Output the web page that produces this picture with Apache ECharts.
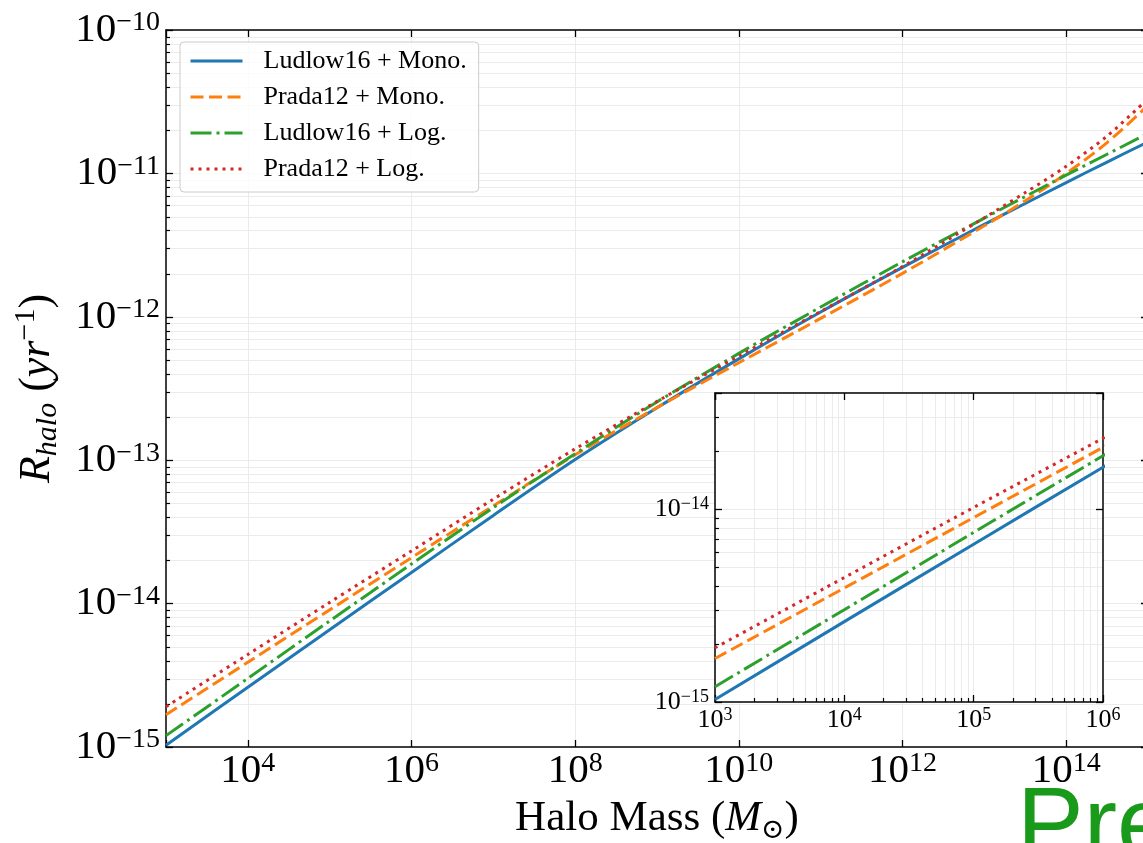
<!DOCTYPE html>
<html><head><meta charset="utf-8">
<script src="https://cdn.jsdelivr.net/npm/echarts@6/dist/echarts.min.js"></script>
<style>html,body{margin:0;padding:0;background:#fff}#c{width:1143px;height:843px}</style>
</head><body><div id="c"></div>
<script>
// ---------------- data ----------------
const masses = [1e3, 1e4, 1e5, 1e6, 1e7, 1e8, 1e9, 1e10, 1e11, 1e12, 1e13, 3.162e13, 1e14, 3.162e14, 1e15];
const ludlowMono = [1.03e-15, 2.61e-15, 6.58e-15, 1.65e-14, 4.12e-14, 1.01e-13, 2.32e-13, 5.09e-13, 1.08e-12, 2.21e-12, 4.41e-12, 6.17e-12, 8.63e-12, 1.20e-11, 1.66e-11];
const pradaMono  = [1.68e-15, 3.90e-15, 9.04e-15, 2.09e-14, 4.81e-14, 1.09e-13, 2.33e-13, 4.78e-13, 9.75e-13, 2.01e-12, 4.31e-12, 6.44e-12, 9.98e-12, 1.64e-11, 2.98e-11];
const ludlowLog  = [1.20e-15, 3.01e-15, 7.57e-15, 1.89e-14, 4.67e-14, 1.11e-13, 2.55e-13, 5.56e-13, 1.17e-12, 2.42e-12, 4.88e-12, 6.90e-12, 9.73e-12, 1.36e-11, 1.90e-11];
const pradaLog   = [1.91e-15, 4.42e-15, 1.02e-14, 2.33e-14, 5.35e-14, 1.20e-13, 2.57e-13, 5.32e-13, 1.09e-12, 2.24e-12, 4.91e-12, 7.35e-12, 1.12e-11, 1.82e-11, 3.32e-11];
const seriesNames = ['Ludlow16 + Mono.', 'Prada12 + Mono.', 'Ludlow16 + Log.', 'Prada12 + Log.'];
const seriesValues = [ludlowMono, pradaMono, ludlowLog, pradaLog];
const mainXRange = [1e3, 1e15];
const mainYRange = [1e-15, 1e-10];
const insetXRange = [1e3, 1e6];
const insetYRange = [1e-15, 4e-14];
const minorMultipliers = [2, 3, 4, 5, 6, 7, 8, 9];

// ---------------- styles ----------------
const seriesColors = ['#1f77b4', '#ff7f0e', '#2ca02c', '#d62728'];
const seriesDash = ['solid', [13, 5.5], [21, 5, 3, 5], [3, 5]];
const SERIF = '"Liberation Serif","DejaVu Serif",serif';
const GRID_COLOR = '#ebebeb';

function powText(v, evenOnly) {
  const e = Math.log10(v);
  const r = Math.round(e);
  if (Math.abs(e - r) > 1e-6) return '';
  if (evenOnly && Math.abs(r % 2) === 1) return '';
  return '{b|10}{s|' + (r < 0 ? '\u2212' + (-r) : String(r)) + '}';
}
const bigRich = {
  b: {fontSize: 41, fontFamily: SERIF, color: '#000', lineHeight: 42, verticalAlign: 'middle'},
  s: {fontSize: 28, fontFamily: SERIF, color: '#000', lineHeight: 26, verticalAlign: 'top'}
};
const smallRich = {
  b: {fontSize: 26, fontFamily: SERIF, color: '#000', lineHeight: 28, verticalAlign: 'middle'},
  s: {fontSize: 18, fontFamily: SERIF, color: '#000', lineHeight: 18, verticalAlign: 'top'}
};
const axisLineStyle = {show: true, onZero: false, lineStyle: {color: '#000', width: 1.5}};
function tick(len) { return {show: true, inside: true, length: len, lineStyle: {color: '#000', width: 1.3}}; }
const noLabel = {show: false};

// minor tick positions (axis decoration)
const mainMinorY = [];
for (let k = -15; k < -10; k++) minorMultipliers.forEach(m => mainMinorY.push([mainXRange[0], m * Math.pow(10, k)]));
const insetMinorY = [];
for (let k = -15; k < -13; k++) minorMultipliers.forEach(m => { const v = m * Math.pow(10, k); if (v < insetYRange[1]) insetMinorY.push([insetXRange[0], v]); });
const insetMinorX = [];
for (let k = 3; k < 6; k++) minorMultipliers.forEach(m => insetMinorX.push([m * Math.pow(10, k), insetYRange[0]]));

function hMinor(xr, len, both) {
  return function (params, api) {
    const y = api.value(1);
    const a = api.coord([xr[0], y]), b = api.coord([xr[1], y]);
    const yy = Math.round(a[1]) + 0.5;
    const ch = [
      {type: 'line', shape: {x1: a[0], y1: yy, x2: b[0], y2: yy}, style: {stroke: GRID_COLOR, lineWidth: 1}},
      {type: 'line', shape: {x1: a[0], y1: yy, x2: a[0] + len, y2: yy}, style: {stroke: '#000', lineWidth: 1.2}}
    ];
    if (both) ch.push({type: 'line', shape: {x1: b[0] - len, y1: yy, x2: b[0], y2: yy}, style: {stroke: '#000', lineWidth: 1.2}});
    return {type: 'group', children: ch};
  };
}
function vMinor(yr, len) {
  return function (params, api) {
    const x = api.value(0);
    const a = api.coord([x, yr[0]]), b = api.coord([x, yr[1]]);
    const xx = Math.round(a[0]) + 0.5;
    return {type: 'group', children: [
      {type: 'line', shape: {x1: xx, y1: a[1], x2: xx, y2: b[1]}, style: {stroke: GRID_COLOR, lineWidth: 1}},
      {type: 'line', shape: {x1: xx, y1: a[1], x2: xx, y2: a[1] - len}, style: {stroke: '#000', lineWidth: 1.2}}
    ]};
  };
}

function lineSeries(i, xi, yi, z) {
  return {
    type: 'line', name: seriesNames[i], xAxisIndex: xi, yAxisIndex: yi, z: z,
    data: masses.map((m, j) => [m, seriesValues[i][j]]),
    symbol: 'none', showSymbol: false, silent: true, clip: true, smooth: 0.3,
    lineStyle: {color: seriesColors[i], width: 3, type: seriesDash[i], cap: 'butt'},
    itemStyle: {color: seriesColors[i]}
  };
}

const option = {
  animation: false,
  backgroundColor: '#fff',
  grid: [
    {left: 166, top: 30, width: 982, height: 717, show: false, containLabel: false, outerBoundsMode: 'none'},
    {left: 715, top: 393, width: 388, height: 309, show: true, backgroundColor: '#fff', borderWidth: 0, z: 5, containLabel: false, outerBoundsMode: 'none'}
  ],
  xAxis: [
    {type: 'log', logBase: 100, gridIndex: 0, min: mainXRange[0], max: mainXRange[1], position: 'bottom',
     axisLine: axisLineStyle, axisTick: tick(7),
     axisLabel: {formatter: v => powText(v, true), margin: 3, rich: bigRich},
     splitLine: {show: true, showMinLine: false, showMaxLine: false, lineStyle: {color: GRID_COLOR, width: 1}},
     name: '{t|Halo Mass (}{i|M}{sub|\u2299}{t|)}', nameLocation: 'middle', nameGap: 46,
     nameTextStyle: {rich: {
       t: {fontSize: 43, fontFamily: SERIF, color: '#000', lineHeight: 52},
       i: {fontSize: 43, fontFamily: SERIF, fontStyle: 'italic', color: '#000', lineHeight: 52},
       sub: {fontSize: 28, fontFamily: SERIF, color: '#000', lineHeight: 30, verticalAlign: 'bottom'}
     }}},
    {type: 'log', logBase: 100, gridIndex: 0, min: mainXRange[0], max: mainXRange[1], position: 'top',
     axisLine: axisLineStyle, axisTick: tick(7), axisLabel: noLabel, splitLine: {show: false}},
    {type: 'log', logBase: 10, gridIndex: 1, min: insetXRange[0], max: insetXRange[1], position: 'bottom', z: 6,
     axisLine: axisLineStyle, axisTick: tick(7),
     axisLabel: {formatter: v => powText(v, false), margin: 4, rich: smallRich},
     splitLine: {show: true, showMinLine: false, showMaxLine: false, lineStyle: {color: GRID_COLOR, width: 1}}},
    {type: 'log', logBase: 10, gridIndex: 1, min: insetXRange[0], max: insetXRange[1], position: 'top', z: 6,
     axisLine: axisLineStyle, axisTick: tick(7), axisLabel: noLabel, splitLine: {show: false}}
  ],
  yAxis: [
    {type: 'log', logBase: 10, gridIndex: 0, min: mainYRange[0], max: mainYRange[1], position: 'left',
     axisLine: axisLineStyle, axisTick: tick(7),
     axisLabel: {formatter: v => powText(v, false), margin: 6, rich: bigRich},
     splitLine: {show: true, showMinLine: false, showMaxLine: false, lineStyle: {color: GRID_COLOR, width: 1}},
     name: '{R|R}{sub|halo}{t| (}{i|yr}{sup|\u22121}{t|)}', nameLocation: 'middle', nameRotate: 90, nameGap: 103,
     nameTextStyle: {rich: {
       R: {fontSize: 44, fontFamily: SERIF, fontStyle: 'italic', color: '#000', lineHeight: 52},
       i: {fontSize: 44, fontFamily: SERIF, fontStyle: 'italic', color: '#000', lineHeight: 52},
       t: {fontSize: 44, fontFamily: SERIF, color: '#000', lineHeight: 52},
       sub: {fontSize: 30, fontFamily: SERIF, fontStyle: 'italic', color: '#000', lineHeight: 30, verticalAlign: 'bottom'},
       sup: {fontSize: 30, fontFamily: SERIF, color: '#000', lineHeight: 30, verticalAlign: 'top'}
     }}},
    {type: 'log', logBase: 10, gridIndex: 0, min: mainYRange[0], max: mainYRange[1], position: 'right',
     axisLine: axisLineStyle, axisTick: tick(7), axisLabel: noLabel, splitLine: {show: false}},
    {type: 'log', logBase: 10, gridIndex: 1, min: insetYRange[0], max: insetYRange[1], position: 'left', z: 6,
     axisLine: axisLineStyle, axisTick: tick(7),
     axisLabel: {formatter: v => powText(v, false), margin: 6, rich: smallRich},
     splitLine: {show: true, showMinLine: false, showMaxLine: false, lineStyle: {color: GRID_COLOR, width: 1}}},
    {type: 'log', logBase: 10, gridIndex: 1, min: insetYRange[0], max: insetYRange[1], position: 'right', z: 6,
     axisLine: axisLineStyle, axisTick: tick(7), axisLabel: noLabel, splitLine: {show: false}}
  ],
  legend: {
    data: seriesNames, left: 180, top: 42, orient: 'vertical', selectedMode: false,
    itemWidth: 52, itemHeight: 14, itemGap: 6, padding: [4, 12, 8, 9],
    itemStyle: {opacity: 0},
    lineStyle: {width: 3},
    backgroundColor: 'rgba(255,255,255,0.8)', borderColor: '#cccccc', borderWidth: 1, borderRadius: 4,
    textStyle: {fontFamily: SERIF, fontSize: 26, color: '#000', lineHeight: 30, padding: [0, 0, 0, 16]}
  },
  graphic: [
    {type: 'text', left: 1017, top: 779, z: 10, silent: true,
     style: {text: 'Preprint', fill: '#1a9a1a', fontSize: 100, fontFamily: '"Liberation Sans", Arial, sans-serif'}}
  ],
  series: [
    {type: 'custom', xAxisIndex: 0, yAxisIndex: 0, z: 1, silent: true, data: mainMinorY,
     encode: {x: 0, y: 1}, renderItem: hMinor(mainXRange, 4, true)},
    {type: 'custom', xAxisIndex: 2, yAxisIndex: 2, z: 6, silent: true, data: insetMinorY,
     encode: {x: 0, y: 1}, renderItem: hMinor(insetXRange, 4, false)},
    {type: 'custom', xAxisIndex: 2, yAxisIndex: 2, z: 6, silent: true, data: insetMinorX,
     encode: {x: 0, y: 1}, renderItem: vMinor(insetYRange, 4)},
    lineSeries(0, 0, 0, 3), lineSeries(1, 0, 0, 3), lineSeries(2, 0, 0, 3), lineSeries(3, 0, 0, 3),
    lineSeries(0, 2, 2, 7), lineSeries(1, 2, 2, 7), lineSeries(2, 2, 2, 7), lineSeries(3, 2, 2, 7)
  ]
};
const chart = echarts.init(document.getElementById('c'), null, {renderer: 'canvas'});
chart.setOption(option);
</script>
</body></html>
